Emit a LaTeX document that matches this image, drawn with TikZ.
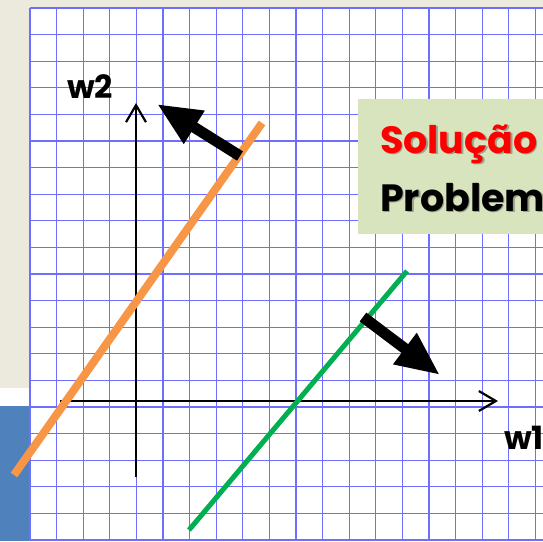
\documentclass[tikz,border=0pt]{standalone}
\usepackage{fontspec}
\newfontfamily\pop{Poppins}
\usetikzlibrary{arrows.meta}
\definecolor{beige}{RGB}{236,233,221}
\definecolor{gridblue}{RGB}{110,110,255}
\definecolor{slate}{RGB}{79,129,189}
\definecolor{boxgreen}{RGB}{215,228,189}
\definecolor{orangeln}{RGB}{247,150,70}
\definecolor{greenln}{RGB}{0,176,80}
\tikzset{
  gridline/.style={draw=gridblue, line width=1.2pt},
  axis/.style={draw=black, line width=2.2pt, -{Straight Barb[length=17pt,width=20pt,line width=2.2pt]}},
  bigarrow/.style={draw=black, line width=11pt, -{Triangle[length=44pt,width=36pt]}},
  axlabel/.style={font=\pop\bfseries\fontsize{32}{34}\selectfont, inner sep=0pt, anchor=base west},
  boxtext/.style={font=\pop\bfseries\fontsize{38}{40}\selectfont, inner sep=0pt, anchor=base west},
}
\begin{document}
\begin{tikzpicture}[x=1pt,y=-1pt]
\useasboundingbox (0,0) rectangle (543,541);
% background
\fill[white] (0,0) rectangle (543,541);
\fill[beige] (0,0) rectangle (543,8);
\fill[beige] (0,0) rectangle (30,388);
\fill[slate] (0,406) rectangle (30,541);
% grid
\foreach \k in {0,...,19} {\draw[gridline] ({30+26.6*\k},8) -- ({30+26.6*\k},541);}
\foreach \k in {0,...,20} {\draw[gridline] (30,{8+26.6*\k}) -- (543,{8+26.6*\k});}
% text box
\fill[boxgreen] (358,99) rectangle (560,234);
\node[boxtext, text=black!70, opacity=0.45] (solsh) at (381.5,154.5) {Solução};
\node[boxtext, text=red] (sol) at (380,153) {Solução};
\node[boxtext, text=black!70, opacity=0.45] (probsh) at (381.5,212.5) {Problem};
\node[boxtext, text=black] (prob) at (380,211) {Problem};
% axes
\coordinate (xs) at (60,401);
\coordinate (xe) at (498,401);
\coordinate (ys) at (136,477);
\coordinate (ye) at (136,103);
\draw[axis] (xs) -- (xe);
\draw[axis] (ys) -- (ye);
\node[axlabel] (w2) at (67,98) {w2};
\node[axlabel] (w1) at (504,449) {w1};
% lines
\coordinate (oa) at (14,475);
\coordinate (ob) at (262,123);
\coordinate (ga) at (189,530);
\coordinate (gb) at (407,271);
\draw[orangeln, line width=8pt] (oa) -- (ob);
\draw[greenln, line width=5pt] (ga) -- (gb);
% normal arrows
\coordinate (a1s) at (240,156);
\coordinate (a1e) at (157,104);
\coordinate (a2s) at (363,317);
\coordinate (a2e) at (440,375);
\draw[bigarrow] (a1s) -- (a1e);
\draw[bigarrow] (a2s) -- (a2e);
\end{tikzpicture}
\end{document}
